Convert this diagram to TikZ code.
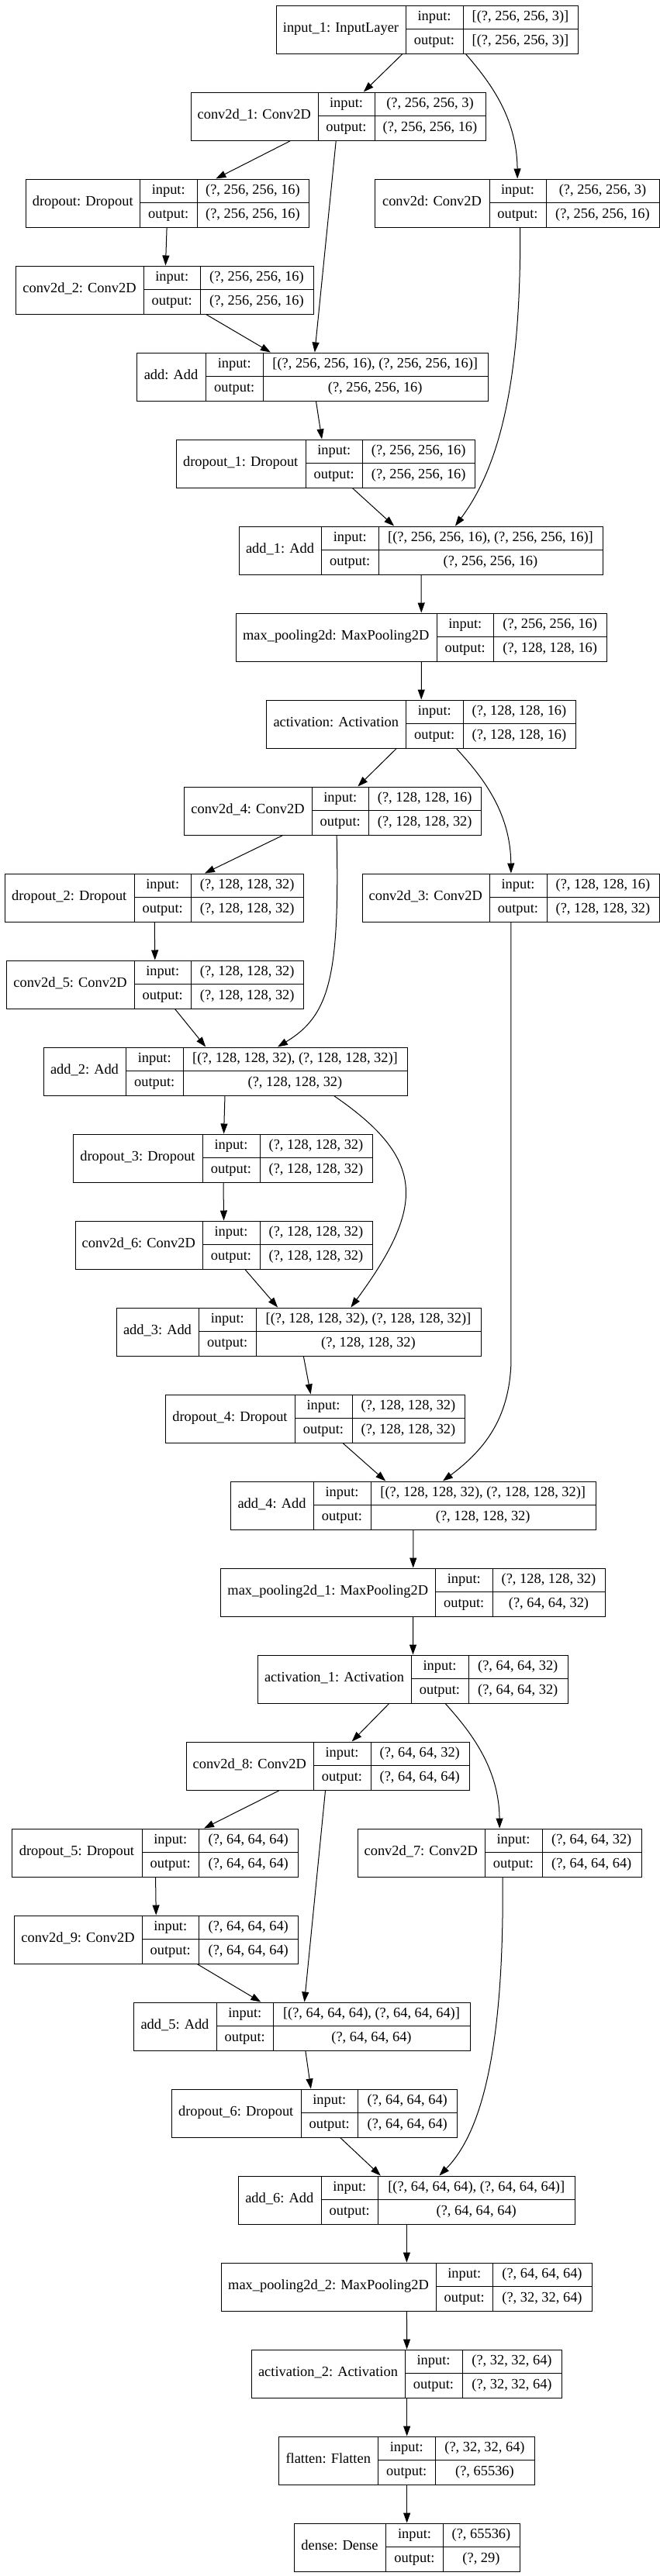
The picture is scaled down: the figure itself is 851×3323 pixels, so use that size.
\documentclass[tikz,border=0pt]{standalone}
\usepackage{fontspec}
\setmainfont{Liberation Serif}
\usetikzlibrary{arrows.meta}

% one Keras layer record: name, x0, x1, x2, x3, row, title, input, output
\newcommand{\layerbox}[9]{%
  \pgfmathsetmacro{\ytop}{6.5+112*(#6-1)}%
  \draw[sep] ({#3},\ytop) -- ++(0,62);
  \draw[sep] ({#4},\ytop) -- ++(0,62);
  \draw[sep] ({#3},{\ytop+31}) -- ({#5},{\ytop+31});
  \node[rec, minimum width={(#5-#2)*1pt}, anchor=north west] (#1) at ({#2},\ytop) {};
  \node[txt] (#1-t)  at ({(#2+#3)/2},{\ytop+31})   {#7};
  \node[txt] (#1-il) at ({(#3+#4)/2},{\ytop+15.5}) {input:};
  \node[txt] (#1-ol) at ({(#3+#4)/2},{\ytop+46.5}) {output:};
  \node[txt] (#1-iv) at ({(#4+#5)/2},{\ytop+15.5}) {#8};
  \node[txt] (#1-ov) at ({(#4+#5)/2},{\ytop+46.5}) {#9};
}

\begin{document}
\begin{tikzpicture}[
    x=1pt, y=-1pt,
    font=\fontsize{18.4pt}{22pt}\selectfont,
    rec/.style={draw, line width=1.3pt, minimum height=62pt, inner sep=0pt},
    sep/.style={line width=0.9pt},
    txt/.style={inner sep=0pt, text height=12.5pt, text depth=4pt},
    arr/.style={-{Triangle[length=13pt,width=9pt]}, line width=1pt},
  ]
  \useasboundingbox (0,0) rectangle (851,3323);

  % first block, 256x256
  \layerbox{input1}{356}{523}{597}{745}{1}{input\_1: InputLayer}{[(?, 256, 256, 3)]}{[(?, 256, 256, 3)]}
  \layerbox{conv2d1}{245.5}{410}{483}{626}{2}{conv2d\_1: Conv2D}{(?, 256, 256, 3)}{(?, 256, 256, 16)}
  \layerbox{dropout}{33}{180.5}{254}{398}{3}{dropout: Dropout}{(?, 256, 256, 16)}{(?, 256, 256, 16)}
  \layerbox{conv2d}{483}{631}{704}{850}{3}{conv2d: Conv2D}{(?, 256, 256, 3)}{(?, 256, 256, 16)}
  \layerbox{conv2d2}{20}{185}{258.5}{403.5}{4}{conv2d\_2: Conv2D}{(?, 256, 256, 16)}{(?, 256, 256, 16)}
  \layerbox{add}{175.5}{265.5}{339}{628.5}{5}{add: Add}{[(?, 256, 256, 16), (?, 256, 256, 16)]}{(?, 256, 256, 16)}
  \layerbox{dropout1}{226.5}{394}{467.5}{612}{6}{dropout\_1: Dropout}{(?, 256, 256, 16)}{(?, 256, 256, 16)}
  \layerbox{add1}{307.5}{414.5}{488}{777}{7}{add\_1: Add}{[(?, 256, 256, 16), (?, 256, 256, 16)]}{(?, 256, 256, 16)}
  \layerbox{maxpool}{303.5}{563}{636.5}{782}{8}{max\_pooling2d: MaxPooling2D}{(?, 256, 256, 16)}{(?, 128, 128, 16)}
  \layerbox{activation}{343}{523.5}{597}{742}{9}{activation: Activation}{(?, 128, 128, 16)}{(?, 128, 128, 16)}

  % second block, 128x128
  \layerbox{conv2d4}{237}{402}{475.5}{620}{10}{conv2d\_4: Conv2D}{(?, 128, 128, 16)}{(?, 128, 128, 32)}
  \layerbox{dropout2}{5.5}{173}{246.5}{391}{11}{dropout\_2: Dropout}{(?, 128, 128, 32)}{(?, 128, 128, 32)}
  \layerbox{conv2d3}{466.5}{631}{705}{850}{11}{conv2d\_3: Conv2D}{(?, 128, 128, 16)}{(?, 128, 128, 32)}
  \layerbox{conv2d5}{8}{173}{246.5}{391}{12}{conv2d\_5: Conv2D}{(?, 128, 128, 32)}{(?, 128, 128, 32)}
  \layerbox{add2}{55.5}{162.5}{236}{525}{13}{add\_2: Add}{[(?, 128, 128, 32), (?, 128, 128, 32)]}{(?, 128, 128, 32)}
  \layerbox{dropout3}{94}{261}{335}{480}{14}{dropout\_3: Dropout}{(?, 128, 128, 32)}{(?, 128, 128, 32)}
  \layerbox{conv2d6}{96.5}{261}{335}{480}{15}{conv2d\_6: Conv2D}{(?, 128, 128, 32)}{(?, 128, 128, 32)}
  \layerbox{add3}{149.5}{256.5}{330}{620}{16}{add\_3: Add}{[(?, 128, 128, 32), (?, 128, 128, 32)]}{(?, 128, 128, 32)}
  \layerbox{dropout4}{213}{380}{454}{599}{17}{dropout\_4: Dropout}{(?, 128, 128, 32)}{(?, 128, 128, 32)}
  \layerbox{add4}{297}{404}{478}{767.5}{18}{add\_4: Add}{[(?, 128, 128, 32), (?, 128, 128, 32)]}{(?, 128, 128, 32)}
  \layerbox{maxpool1}{284}{561.5}{635}{780}{19}{max\_pooling2d\_1: MaxPooling2D}{(?, 128, 128, 32)}{(?, 64, 64, 32)}
  \layerbox{activation1}{332}{530}{604}{731.5}{20}{activation\_1: Activation}{(?, 64, 64, 32)}{(?, 64, 64, 32)}

  % third block, 64x64
  \layerbox{conv2d8}{239.5}{404}{478}{604.5}{21}{conv2d\_8: Conv2D}{(?, 64, 64, 32)}{(?, 64, 64, 64)}
  \layerbox{dropout5}{15}{183}{256.5}{384}{22}{dropout\_5: Dropout}{(?, 64, 64, 64)}{(?, 64, 64, 64)}
  \layerbox{conv2d7}{460.5}{625}{699}{826.5}{22}{conv2d\_7: Conv2D}{(?, 64, 64, 32)}{(?, 64, 64, 64)}
  \layerbox{conv2d9}{18}{183}{256.5}{384}{23}{conv2d\_9: Conv2D}{(?, 64, 64, 64)}{(?, 64, 64, 64)}
  \layerbox{add5}{172}{279}{352.5}{605.5}{24}{add\_5: Add}{[(?, 64, 64, 64), (?, 64, 64, 64)]}{(?, 64, 64, 64)}
  \layerbox{dropout6}{220.5}{388}{461.5}{589}{25}{dropout\_6: Dropout}{(?, 64, 64, 64)}{(?, 64, 64, 64)}
  \layerbox{add6}{306.5}{414}{487.5}{741}{26}{add\_6: Add}{[(?, 64, 64, 64), (?, 64, 64, 64)]}{(?, 64, 64, 64)}
  \layerbox{maxpool2}{285}{562}{635.5}{762.5}{27}{max\_pooling2d\_2: MaxPooling2D}{(?, 64, 64, 64)}{(?, 32, 32, 64)}
  \layerbox{activation2}{324}{522}{596}{724}{28}{activation\_2: Activation}{(?, 32, 32, 64)}{(?, 32, 32, 64)}
  \layerbox{flatten}{359}{487.5}{561}{689}{29}{flatten: Flatten}{(?, 32, 32, 64)}{(?, 65536)}
  \layerbox{dense}{378.5}{497.5}{571.5}{669.5}{30}{dense: Dense}{(?, 65536)}{(?, 29)}

  % connections
  \draw[arr] (input1) -- (conv2d1);
  \draw[arr] ([xshift=49.5pt]input1.south) .. controls (630,104) and (666.5,150) .. (conv2d.north);
  \draw[arr] (conv2d1) -- (dropout);
  \draw[arr] (conv2d1) -- (add);
  \draw[arr] (dropout) -- (conv2d2);
  \draw[arr] (conv2d2) -- (add);
  \draw[arr] ([xshift=3.5pt]conv2d.south) .. controls (672,492) and (644,602) .. ([xshift=44pt]add1.north);
  \draw[arr] (add) -- (dropout1);
  \draw[arr] (dropout1) -- (add1);
  \draw[arr] (add1) -- (maxpool);
  \draw[arr] (maxpool) -- (activation);
  \draw[arr] (activation) -- (conv2d4);
  \draw[arr] ([xshift=45.5pt]activation.south) .. controls (620,1000) and (658.25,1046) .. (conv2d3.north);
  \draw[arr] (conv2d4) -- (dropout2);
  \draw[arr] ([xshift=5pt]conv2d4.south) .. controls (438,1260) and (425,1310) .. ([xshift=67pt]add2.north);
  \draw[arr] (dropout2) -- (conv2d5);
  \draw[arr] (conv2d5) -- (add2);
  \draw[arr] (conv2d3.south) -- ++(0,570) .. controls (656,1830) and (625,1870) .. ([xshift=38pt]add4.north);
  \draw[arr] (add2) -- (dropout3);
  \draw[arr] ([xshift=140pt]add2.south) .. controls (549,1495) and (549,1555) .. ([xshift=67pt]add3.north);
  \draw[arr] (dropout3) -- (conv2d6);
  \draw[arr] (conv2d6) -- (add3);
  \draw[arr] (add3) -- (dropout4);
  \draw[arr] (dropout4) -- (add4);
  \draw[arr] (add4) -- (maxpool1);
  \draw[arr] (maxpool1) -- (activation1);
  \draw[arr] (activation1) -- (conv2d8);
  \draw[arr] ([xshift=42pt]activation1.south) .. controls (606,2233) and (643.5,2280) .. (conv2d7.north);
  \draw[arr] (conv2d8) -- (dropout5);
  \draw[arr] (conv2d8) -- (add5);
  \draw[arr] (dropout5) -- (conv2d9);
  \draw[arr] (conv2d9) -- (add5);
  \draw[arr] ([xshift=4pt]conv2d7.south) .. controls (650,2640) and (622,2750) .. ([xshift=42pt]add6.north);
  \draw[arr] (add5) -- (dropout6);
  \draw[arr] (dropout6) -- (add6);
  \draw[arr] (add6) -- (maxpool2);
  \draw[arr] (maxpool2) -- (activation2);
  \draw[arr] (activation2) -- (flatten);
  \draw[arr] (flatten) -- (dense);
\end{tikzpicture}
\end{document}
